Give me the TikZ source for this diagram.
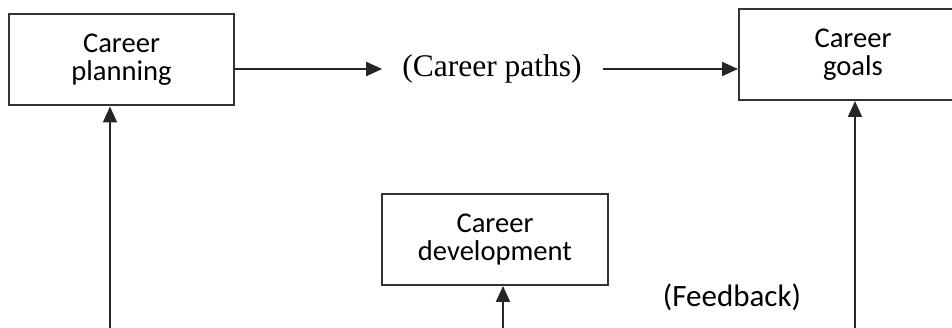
\documentclass[tikz,border=0pt]{standalone}
\usepackage{fontspec}
\setmainfont{Carlito}
\newfontfamily\timesfont{Liberation Serif}
\usetikzlibrary{arrows.meta}
\tikzset{
  stagebox/.style={shape=rectangle, draw=black!80, line width=2pt, inner sep=0pt,
    minimum width=#1, minimum height=91pt, align=center,
    font=\fontsize{28.6}{28}\selectfont},
  flowarrow/.style={-{Triangle[length=16pt,width=14pt]}, line width=2pt, draw=black!85}
}
\begin{document}
\begin{tikzpicture}[x=1pt, y=-1pt]
\useasboundingbox (0,0) rectangle (952,328);
\node[stagebox=225pt] (plan) at (121.5, 60) {Career\\planning};
\node[stagebox=228pt] (goals) at (853, 54.5) {Career\\goals};
\node[stagebox=226pt] (devel) at (495, 239.5) {Career\\development};
\node[inner sep=0pt, font=\timesfont\fontsize{31.5}{34}\selectfont] (paths) at (492, 69) {(Career paths)};
\node[inner sep=0pt, font=\fontsize{31}{34}\selectfont] (feedback) at (732, 297) {(Feedback)};
\coordinate (planin) at (110, 328);
\coordinate (develin) at (503, 328);
\coordinate (goalsin) at (855, 328);
\path (plan.east |- paths.west) edge [flowarrow, shorten >=20pt] (paths.west);
\path (paths.east) edge [flowarrow, shorten <=21pt] (paths.east -| goals.west);
\path (planin) edge [flowarrow] (planin |- plan.south);
\path (develin) edge [flowarrow] (develin |- devel.south);
\path (goalsin) edge [flowarrow] (goalsin |- goals.south);
\end{tikzpicture}
\end{document}
